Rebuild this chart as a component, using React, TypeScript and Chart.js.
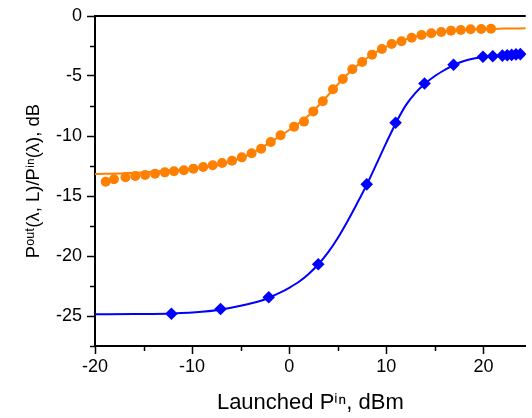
import React, { useEffect, useRef } from 'react';
import { Chart, registerables } from 'chart.js';

Chart.register(...registerables);

// Measured orange circles (launched power, dBm -> ratio, dB)
const orangeX = [-18.9, -18.05, -16.86, -15.85, -14.84, -13.82, -12.81, -11.87, -10.85, -9.87, -8.86, -7.88, -6.91, -5.89, -4.88, -3.87, -2.89, -1.9, -0.89, 0.5, 1.52, 2.48, 3.46, 4.51, 5.52, 6.5, 7.51, 8.53, 9.54, 10.55, 11.56, 12.61, 13.62, 14.63, 15.65, 16.66, 17.67, 18.68, 19.77, 20.78];
const orangeY = [-13.81, -13.6, -13.44, -13.33, -13.25, -13.14, -13.03, -12.94, -12.86, -12.72, -12.58, -12.44, -12.25, -12.06, -11.78, -11.44, -11.06, -10.5, -9.94, -9.22, -8.8, -7.95, -7.1, -6.11, -5.25, -4.44, -3.83, -3.22, -2.75, -2.33, -2.11, -1.81, -1.58, -1.44, -1.33, -1.22, -1.17, -1.11, -1.08, -1.06];

// Fitted orange curve
const orangeFitX = [-20, -17, -14, -11, -8, -6, -4, -2, 0, 2, 4, 6, 8, 10, 12, 14, 16, 18, 20, 22, 24.35];
const orangeFitY = [-13.17, -13.1, -12.97, -12.8, -12.5, -12.12, -11.5, -10.55, -9.5, -8.3, -6.6, -4.85, -3.5, -2.55, -1.95, -1.55, -1.3, -1.15, -1.08, -1.05, -1.03];

// Measured blue diamonds
const blueX = [-12.13, -7.07, -2.11, 2.99, 7.98, 10.95, 13.93, 16.92, 19.95, 20.96, 21.95, 22.45, 22.9, 23.35, 23.8];
const blueY = [-24.81, -24.42, -23.44, -20.69, -14.03, -8.89, -5.62, -4.06, -3.4, -3.36, -3.3, -3.27, -3.24, -3.2, -3.18];

// Fitted blue curve
const blueFitX = [-20, -16, -12, -9, -7, -5, -3, -2, -1, 0, 1, 2, 3, 4, 5, 6, 7, 8, 9, 10, 11, 12, 13, 14, 15, 16, 17, 18, 19, 20, 22, 24.35];
const blueFitY = [-24.86, -24.84, -24.79, -24.65, -24.45, -24.15, -23.75, -23.44, -23.08, -22.65, -22.15, -21.5, -20.69, -19.7, -18.5, -17.1, -15.6, -14.03, -12.3, -10.55, -8.89, -7.45, -6.4, -5.62, -5.0, -4.5, -4.06, -3.75, -3.55, -3.42, -3.28, -3.16];

const xTicks = [-20, -10, 0, 10, 20];
const xMinorTicks = [-15, -5, 5, 15];
const yTicks = [0, -5, -10, -15, -20, -25];
const yMinorTicks = [-2.5, -7.5, -12.5, -17.5, -22.5, -27.5];

const ORANGE = '#FF8000';
const BLUE = '#0000FF';
const FONT = "'Liberation Sans', Arial, sans-serif";

const pts = (xs: number[], ys: number[]) => xs.map((x, i) => ({ x, y: ys[i] }));

const framePlugin = {
  id: 'frameMinor',
  afterDraw(chart: any) {
    const ctx = chart.ctx;
    const { left, right, top, bottom } = chart.chartArea;
    const xs = chart.scales.x;
    const ys = chart.scales.y;
    ctx.save();
    ctx.strokeStyle = '#000';
    ctx.lineWidth = 1.5;
    ctx.beginPath();
    yMinorTicks.forEach((v) => {
      const p = Math.round(ys.getPixelForValue(v)) + 0.5;
      ctx.moveTo(left - 5, p);
      ctx.lineTo(left, p);
    });
    xMinorTicks.forEach((v) => {
      const p = Math.round(xs.getPixelForValue(v)) + 0.5;
      ctx.moveTo(p, bottom);
      ctx.lineTo(p, bottom + 5);
    });
    ctx.stroke();
    ctx.lineWidth = 2;
    ctx.beginPath();
    ctx.moveTo(left - 1, top);
    ctx.lineTo(right, top);
    ctx.stroke();
    ctx.restore();
  },
};

export default function App() {
  const ref = useRef<HTMLCanvasElement>(null);
  useEffect(() => {
    const chart = new Chart(ref.current as HTMLCanvasElement, {
      type: 'scatter',
      data: {
        datasets: [
          {
            label: 'orange fit',
            data: pts(orangeFitX, orangeFitY),
            showLine: true,
            borderColor: ORANGE,
            borderWidth: 2,
            pointRadius: 0,
            cubicInterpolationMode: 'monotone',
          },
          {
            label: 'blue fit',
            data: pts(blueFitX, blueFitY),
            showLine: true,
            borderColor: BLUE,
            borderWidth: 2,
            pointRadius: 0,
            cubicInterpolationMode: 'monotone',
          },
          {
            label: 'orange',
            data: pts(orangeX, orangeY),
            pointStyle: 'circle',
            pointRadius: 5,
            backgroundColor: ORANGE,
            borderColor: ORANGE,
            borderWidth: 0,
          },
          {
            label: 'blue',
            data: pts(blueX, blueY),
            pointStyle: 'rectRot',
            pointRadius: 6.3,
            backgroundColor: BLUE,
            borderColor: BLUE,
            borderWidth: 0,
          },
        ],
      } as any,
      options: {
        responsive: false,
        animation: false,
        layout: { padding: { top: 16, left: 0, right: 0, bottom: 0 } },
        plugins: { legend: { display: false }, tooltip: { enabled: false } },
        scales: {
          x: {
            type: 'linear',
            min: -20,
            max: 24.35,
            afterBuildTicks: (s: any) => {
              s.ticks = xTicks.map((v) => ({ value: v }));
            },
            afterFit: (s: any) => {
              s.height = 72;
            },
            grid: { drawOnChartArea: false, drawTicks: true, tickLength: 8, color: '#000', tickWidth: 1.5 },
            border: { display: true, color: '#000', width: 2 },
            ticks: { color: '#000', font: { family: FONT, size: 18 }, padding: 2, maxRotation: 0 },
            title: {
              display: true,
              text: 'Launched Pⁱⁿ, dBm',
              color: '#000',
              font: { family: FONT, size: 22 },
              padding: { top: 0, bottom: 2 },
            },
          },
          y: {
            type: 'linear',
            min: -27.5,
            max: 0,
            afterBuildTicks: (s: any) => {
              s.ticks = yTicks.map((v) => ({ value: v }));
            },
            afterFit: (s: any) => {
              s.width = 95;
            },
            grid: { drawOnChartArea: false, drawTicks: true, tickLength: 8, color: '#000', tickWidth: 1.5 },
            border: { display: true, color: '#000', width: 2 },
            ticks: { color: '#000', font: { family: FONT, size: 18 }, padding: 5 },
            title: {
              display: true,
              text: 'Pᵒᵘᵗ(λ, L)/Pⁱⁿ(λ), dB',
              color: '#000',
              font: { family: FONT, size: 18.5 },
              padding: { top: 23, bottom: 0 },
            },
          },
        },
      } as any,
      plugins: [framePlugin],
    });
    return () => chart.destroy();
  }, []);
  return (
    <div style={{ position: 'fixed', left: 0, top: 0, width: 532, height: 418, background: '#fff' }}>
      <canvas ref={ref} width={532} height={418} style={{ display: 'block' }} />
    </div>
  );
}
